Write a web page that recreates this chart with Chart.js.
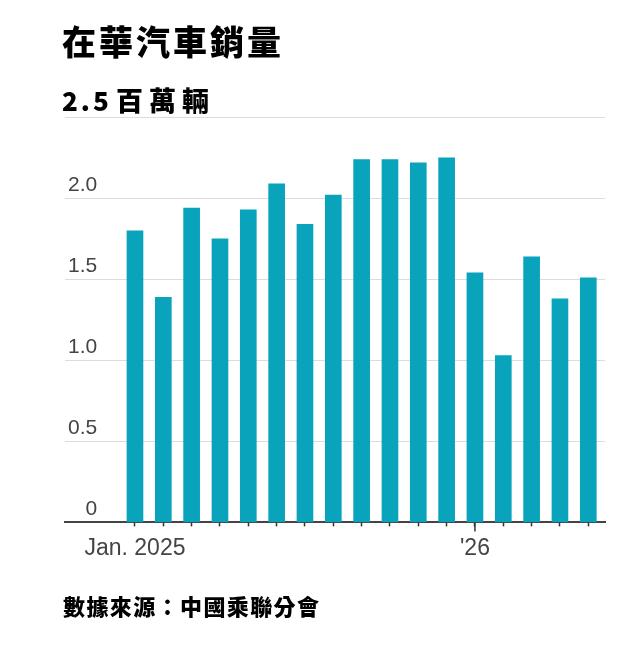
<!DOCTYPE html>
<html>
<head>
<meta charset="utf-8">
<script src="https://cdn.jsdelivr.net/npm/chart.js@4.4.1/dist/chart.umd.min.js"></script>
<style>
html,body{margin:0;padding:0;background:#fff;width:640px;height:656px;overflow:hidden}
#wrap{position:absolute;left:0;top:0;width:640px;height:600px}
#title{position:absolute;left:62px;top:24px;font:900 34px/1 "Noto Sans CJK TC",sans-serif;letter-spacing:3px;color:#000}
#source{position:absolute;left:63px;top:594px;font:900 22px/1 "Noto Sans CJK TC",sans-serif;letter-spacing:1.4px;color:#000}
</style>
</head>
<body>
<div id="wrap"><canvas id="c"></canvas></div>
<div id="title">在華汽車銷量</div>
<div id="source">數據來源：中國乘聯分會</div>
<script>
// monthly sales, millions of vehicles
var months=['2025-01','2025-02','2025-03','2025-04','2025-05','2025-06','2025-07','2025-08','2025-09','2025-10','2025-11','2025-12','2026-01','2026-02','2026-03','2026-04','2026-05'];
var sales=[1.80,1.39,1.94,1.75,1.93,2.09,1.84,2.02,2.24,2.24,2.22,2.25,1.54,1.03,1.64,1.38,1.51];
var xTickLabels=['Jan. 2025','','','','','','','','','','','',"'26",'','','',''];
var yTicks=[0,0.5,1,1.5,2,2.5];
var unit='百萬輛';

var jan26=months.indexOf('2026-01');

var extras={id:'extras',afterDraw:function(ch){
	var c=ch.ctx,x=ch.scales.x,y=ch.scales.y;
	var topVal=yTicks[yTicks.length-1];
	var base=y.getPixelForValue(topVal)-6.5;
	c.save();
	c.font='900 26px "Noto Sans CJK TC"';
	c.fillStyle='#000';
	c.textBaseline='alphabetic';
	c.letterSpacing='3px';
	c.fillText(String(topVal),62,base);
	c.font='900 27px "Noto Sans CJK TC"';
	c.letterSpacing='6px';
	c.fillText(unit,116,base);
	// longer tick at the new year
	var px=x.getPixelForValue(jan26);
	c.strokeStyle='#333';c.lineWidth=1.5;
	c.beginPath();c.moveTo(px,y.bottom);c.lineTo(px,y.bottom+9);c.stroke();
	c.restore();
}};

new Chart(document.getElementById('c'),{
	type:'bar',
	data:{
		labels:months,
		datasets:[{data:sales.map(function(v,i){return {x:i,y:v};}),backgroundColor:'#09a3bc',barThickness:16}]
	},
	options:{
		responsive:true,maintainAspectRatio:false,animation:false,
		layout:{padding:{left:59,right:35,top:117.4,bottom:30}},
		plugins:{legend:{display:false},tooltip:{enabled:false}},
		scales:{
			x:{type:'linear',min:-2.47,max:16.59,bounds:'data',offset:false,
				afterBuildTicks:function(s){s.ticks=months.map(function(m,i){return {value:i};});},
				ticks:{autoSkip:false,maxRotation:0,padding:8,color:'#444',font:{family:'Liberation Sans',size:23},
					callback:function(v){return xTickLabels[v]||'';}},
				grid:{offset:false,drawOnChartArea:false,drawTicks:true,tickLength:4,tickColor:'#333',tickWidth:1.5},
				border:{display:true,color:'#444',width:2}},
			y:{min:0,max:2.5,bounds:'data',
				afterBuildTicks:function(s){s.ticks=yTicks.map(function(v){return {value:v};});},
				ticks:{mirror:true,crossAlign:'far',padding:3,labelOffset:-13,color:'#444',font:{family:'Liberation Sans',size:21},
					callback:function(v){return v===yTicks[yTicks.length-1]?'':(v===0?'0':v.toFixed(1));}},
				grid:{drawTicks:false,lineWidth:1,color:function(c){return c.tick&&c.tick.value===0?'rgba(0,0,0,0)':'#dcdcdc';}},
				border:{display:false}}
		}
	},
	plugins:[extras]
});
</script>
</body>
</html>
